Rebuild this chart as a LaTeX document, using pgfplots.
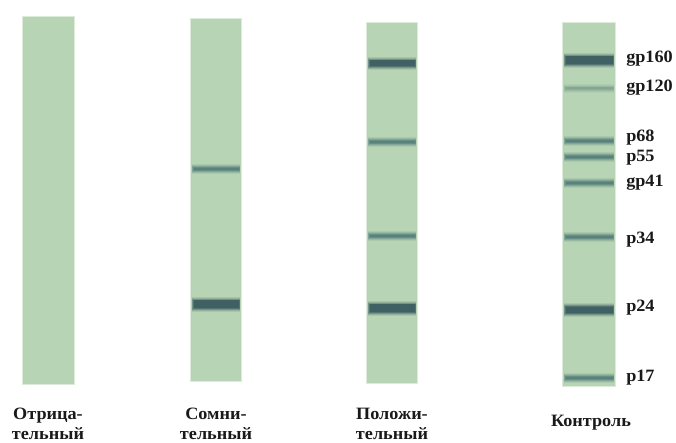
\documentclass[border=0pt]{standalone}
\usepackage{pgfplots}
\pgfplotsset{compat=1.18}
\usepackage{fontspec}
\setmainfont{Liberation Serif}[FakeStretch=1.05]
\definecolor{strip}{HTML}{B7D5B4}
\definecolor{dark}{HTML}{34555C}
\definecolor{mid}{HTML}{4F7A78}
\definecolor{faint}{HTML}{7FA291}
% \band{x1}{x2}{y}{width px}{color}
\newcommand{\band}[5]{%
  \addplot[draw=#5, opacity=0.12, line width=#4*0.75pt+4.5pt] coordinates {(#1+1,#3)(#2-1,#3)};
  \addplot[draw=#5, opacity=0.18, line width=#4*0.75pt+3pt] coordinates {(#1+1,#3)(#2-1,#3)};
  \addplot[draw=#5, opacity=0.3, line width=#4*0.75pt+1.5pt] coordinates {(#1+1,#3)(#2-1,#3)};
  \addplot[draw=#5, opacity=0.5, line width=#4*0.75pt] coordinates {(#1+1.5,#3)(#2-1.5,#3)};
  \addplot[draw=#5, opacity=0.6, line width=#4*0.75pt-1.2pt] coordinates {(#1+2.5,#3)(#2-2.5,#3)};
}
\newcommand{\strip}[4]{%
  \addplot[fill=strip, draw=strip!70!white, line width=1.2pt, opacity=0.7] coordinates {(#1,#3)(#2,#3)(#2,#4)(#1,#4)} -- cycle;
  \addplot[fill=strip, draw=none] coordinates {(#1,#3)(#2,#3)(#2,#4)(#1,#4)} -- cycle;
}
\begin{document}
\begin{tikzpicture}
\begin{axis}[
  width=507pt, height=332.25pt, scale only axis,
  xmin=0, xmax=676, ymin=0, ymax=443, y dir=reverse,
  hide axis, clip=false,
]
% strips
\strip{23}{74}{17}{384}
\strip{191}{241}{19}{381}
\strip{367}{417}{23}{383}
\strip{563}{615}{23}{386}
% lane 2 (doubtful)
\band{191}{241}{169}{3.5}{mid}
\band{191}{241}{304}{9}{dark}
% lane 3 (positive)
\band{367}{417}{63}{7}{dark}
\band{367}{417}{142}{3.5}{mid}
\band{367}{417}{236}{3.5}{mid}
\band{367}{417}{308}{9}{dark}
% control
\band{563}{615}{60}{9}{dark}
\band{563}{615}{88}{3}{faint}
\band{563}{615}{141}{3.5}{mid}
\band{563}{615}{157}{3.5}{mid}
\band{563}{615}{183}{4}{mid}
\band{563}{615}{237}{4.5}{mid}
\band{563}{615}{310}{8}{dark}
\band{563}{615}{378}{4.5}{mid}
% band labels
\begin{scope}[every node/.style={anchor=west, inner sep=0pt, font=\fontsize{13}{14}\selectfont\bfseries, text=black!90}]
\node at (axis cs:626,59) {gp160};
\node at (axis cs:626,88) {gp120};
\node at (axis cs:626,138) {p68};
\node at (axis cs:626,158) {p55};
\node at (axis cs:626,183) {gp41};
\node at (axis cs:626,240) {p34};
\node at (axis cs:626,308) {p24};
\node at (axis cs:626,378) {p17};
\end{scope}
% lane labels
\begin{scope}[every node/.style={anchor=center, align=center, inner sep=0pt, font=\fontsize{13}{14.5}\selectfont\bfseries, text=black!90}]
\node at (axis cs:48,424) {Отрица-\\тельный};
\node at (axis cs:216,424) {Сомни-\\тельный};
\node at (axis cs:392,424) {Положи-\\тельный};
\node at (axis cs:591,423) {Контроль};
\end{scope}
\end{axis}
\pgfresetboundingbox
\path (current axis.south west) rectangle (current axis.north east);
\end{tikzpicture}
\end{document}
